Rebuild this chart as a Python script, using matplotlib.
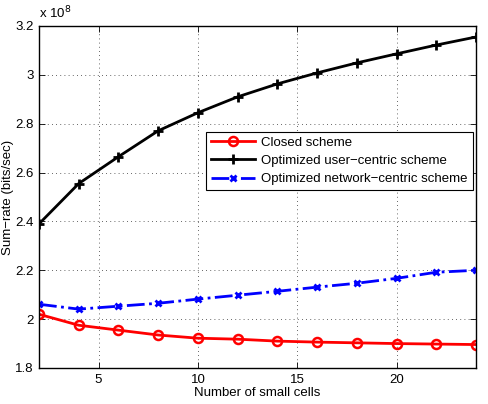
import matplotlib
matplotlib.use("Agg")
import matplotlib.pyplot as plt
from matplotlib.ticker import FixedLocator

plt.rcParams['font.family'] = ['Liberation Sans', 'DejaVu Sans']
plt.rcParams['font.size'] = 9.5

x = [2, 4, 6, 8, 10, 12, 14, 16, 18, 20, 22, 24]
closed = [2.020, 1.975, 1.955, 1.935, 1.922, 1.918, 1.910, 1.906, 1.903, 1.900, 1.898, 1.896]
user_centric = [2.390, 2.555, 2.665, 2.771, 2.845, 2.910, 2.963, 3.008, 3.049, 3.086, 3.122, 3.155]
network_centric = [2.061, 2.041, 2.053, 2.065, 2.082, 2.098, 2.114, 2.131, 2.147, 2.167, 2.192, 2.200]

labels = ["Closed scheme", "Optimized user\u2212centric scheme", "Optimized network\u2212centric scheme"]
xticks = [5, 10, 15, 20]
yticks = [1.8, 2.0, 2.2, 2.4, 2.6, 2.8, 3.0, 3.2]
ytick_labels = ["1.8", "2", "2.2", "2.4", "2.6", "2.8", "3", "3.2"]

fig = plt.figure(figsize=(4.88, 4.04), dpi=100)
ax = fig.add_axes([39/488, 36/404, 437/488, 342/404])

ax.plot(x, closed, color='red', lw=2, marker='o', ms=6.5, mfc='none', mew=1.8, label=labels[0])
ax.plot(x, user_centric, color='black', lw=2, marker='+', ms=7, mew=2, label=labels[1])
ax.plot(x, network_centric, color='blue', lw=2, ls='-.', marker='x', ms=4.5, mew=2, label=labels[2])

ax.set_xlim(2, 24)
ax.set_ylim(1.8, 3.2)
ax.xaxis.set_major_locator(FixedLocator(xticks))
ax.set_yticks(yticks)
ax.set_yticklabels(ytick_labels)
ax.tick_params(direction='in', length=4, width=0.6, top=True, right=True, labelsize=9.5, pad=4)
ax.grid(True, ls=(0, (1, 4)), color='black', lw=0.6, alpha=0.8)
for s in ax.spines.values():
    s.set_linewidth(1.0)

ax.set_xlabel("Number of small cells", fontsize=9.5, labelpad=1)
ax.set_ylabel("Sum\u2212rate (bits/sec)", fontsize=9.5, labelpad=1)
ax.text(0.0, 1.015, "x 10$^{8}$", transform=ax.transAxes, fontsize=9.5, ha='left', va='bottom')

leg = ax.legend(loc='upper left', bbox_to_anchor=((206-39)/437, (368-132)/342),
                fancybox=False, framealpha=1, edgecolor='black', borderpad=0.35,
                labelspacing=0.45, handlelength=3.4, handletextpad=0.45, borderaxespad=0)
leg.get_frame().set_linewidth(0.8)

fig.savefig("out.png", dpi=100)
